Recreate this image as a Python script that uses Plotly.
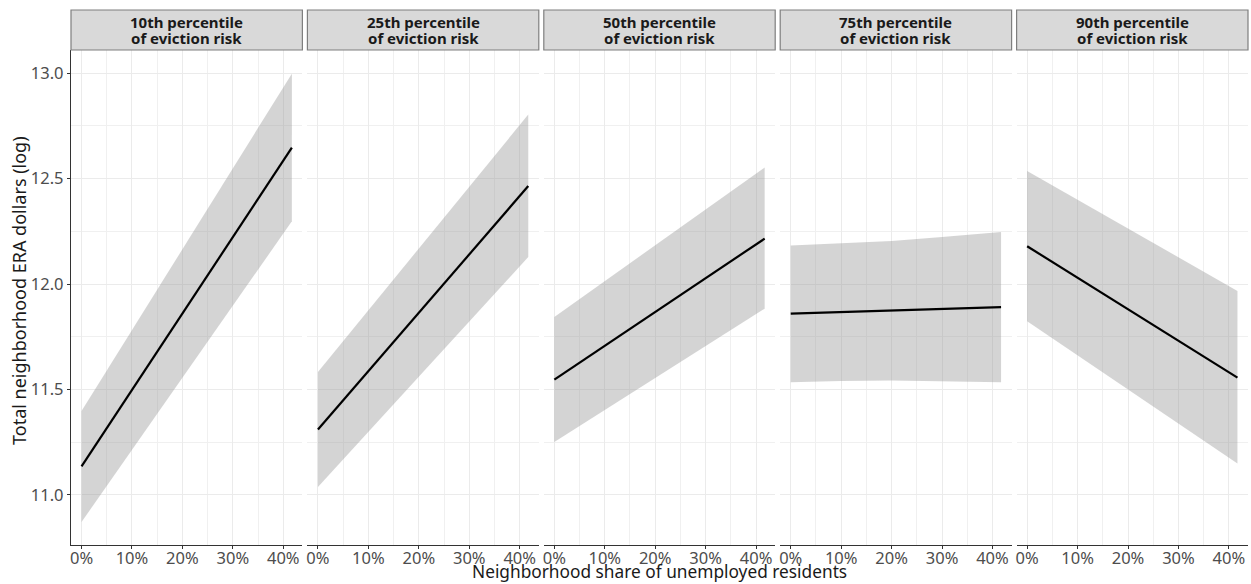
import plotly.graph_objects as go

# ---------------- data ----------------
panel_line1 = [
    "10th percentile",
    "25th percentile",
    "50th percentile",
    "75th percentile",
    "90th percentile",
]
panel_line2 = "of eviction risk"
line_x = [0.0, 0.417]
line_y = [
    [11.136, 12.646],
    [11.310, 12.464],
    [11.547, 12.215],
    [11.860, 11.890],
    [12.179, 11.556],
]
band_x = [
    [0.0, 0.417],
    [0.0, 0.417],
    [0.0, 0.417],
    [0.0, 0.1, 0.2, 0.3, 0.417],
    [0.0, 0.417],
]
band_upper = [
    [11.398, 12.997],
    [11.583, 12.803],
    [11.844, 12.552],
    [12.183, 12.194, 12.204, 12.223, 12.247],
    [12.536, 11.967],
]
band_lower = [
    [10.872, 12.297],
    [11.038, 12.128],
    [11.251, 11.883],
    [11.534, 11.540, 11.543, 11.539, 11.534],
    [11.823, 11.149],
]
x_ticks = [0.0, 0.1, 0.2, 0.3, 0.4]
y_ticks = [11.0, 11.5, 12.0, 12.5, 13.0]
x_title = "Neighborhood share of unemployed residents"
y_title = "Total neighborhood ERA dollars (log)"

# ---------------- layout geometry ----------------
W, H = 1251, 584
ML, MR, MT, MB = 71, 3, 50, 39
plot_w = W - ML - MR
plot_h = H - MT - MB
gap_px = 5.0
panel_w = (plot_w - 4 * gap_px) / 5
X_RANGE = [-0.0209, 0.4379]
Y_RANGE = [10.763, 13.109]

FONT = "Noto Sans"
TICK_SIZE = 16.5
fig = go.Figure()
layout = dict(
    width=W, height=H,
    margin=dict(l=ML, r=MR, t=MT, b=MB),
    paper_bgcolor="white", plot_bgcolor="white",
    showlegend=False,
    font=dict(family=FONT, size=14, color="#4d4d4d"),
)
shapes = []
annotations = []


def py(pix):
    """pixel row (from top of figure) -> paper y"""
    return (H - MB - pix) / plot_h


for i in range(5):
    sfx = "" if i == 0 else str(i + 1)
    xa, ya = "x" + sfx, "y" + sfx
    d0 = (i * (panel_w + gap_px)) / plot_w
    d1 = (i * (panel_w + gap_px) + panel_w) / plot_w

    bx = band_x[i] + band_x[i][::-1]
    by = band_upper[i] + band_lower[i][::-1]
    fig.add_trace(go.Scatter(
        x=bx, y=by, xaxis=xa, yaxis=ya, mode="lines",
        fill="toself", fillcolor="rgba(153,153,153,0.42)",
        line=dict(width=0), hoverinfo="skip"))
    fig.add_trace(go.Scatter(
        x=line_x, y=line_y[i], xaxis=xa, yaxis=ya, mode="lines",
        line=dict(color="black", width=2.2)))

    layout["xaxis" + sfx] = dict(
        domain=[d0, d1], anchor=ya, range=X_RANGE,
        tickvals=x_ticks, tickformat=".0%",
        showgrid=True, gridcolor="#ebebeb", gridwidth=1,
        minor=dict(dtick=0.05, tick0=0, showgrid=True, gridcolor="#f0f0f0", gridwidth=1),
        showline=True, linecolor="#333333", linewidth=1.3,
        ticks="outside", ticklen=3, tickcolor="#333333",
        tickfont=dict(family=FONT, size=TICK_SIZE, color="#4d4d4d"),
        ticklabelstandoff=-5,
        zeroline=False, fixedrange=True,
    )
    layout["yaxis" + sfx] = dict(
        domain=[0, 1], anchor=xa, range=Y_RANGE,
        tickvals=y_ticks, tickformat=".1f",
        showgrid=True, gridcolor="#ebebeb", gridwidth=1,
        minor=dict(dtick=0.25, tick0=11.0, showgrid=True, gridcolor="#f0f0f0", gridwidth=1),
        showline=(i == 0), linecolor="#333333", linewidth=1.3,
        ticks="outside" if i == 0 else "", ticklen=3, tickcolor="#333333",
        showticklabels=(i == 0),
        tickfont=dict(family=FONT, size=TICK_SIZE, color="#4d4d4d"),
        zeroline=False, fixedrange=True,
    )

    # strip header
    shapes.append(dict(
        type="rect", xref="paper", yref="paper",
        x0=d0, x1=d1, y0=py(50), y1=py(10),
        fillcolor="#d9d9d9", line=dict(color="#7f7f7f", width=1.2), layer="above"))
    annotations.append(dict(
        text="<b>" + panel_line1[i] + "</b>", xref="paper", yref="paper",
        x=(d0 + d1) / 2, y=py(22.5), xanchor="center", yanchor="middle",
        showarrow=False, font=dict(family=FONT, size=15, color="#1a1a1a")))
    annotations.append(dict(
        text="<b>" + panel_line2 + "</b>", xref="paper", yref="paper",
        x=(d0 + d1) / 2, y=py(38), xanchor="center", yanchor="middle",
        showarrow=False, font=dict(family=FONT, size=15, color="#1a1a1a")))

annotations.append(dict(
    text=x_title, xref="paper", yref="paper",
    x=0.5, y=py(584), xanchor="center", yanchor="bottom", borderpad=0,
    showarrow=False, font=dict(family=FONT, size=17.3, color="#1a1a1a")))
annotations.append(dict(
    text=y_title, xref="paper", yref="paper",
    x=(19 - ML) / plot_w, y=py(291), xanchor="center", yanchor="middle", textangle=-90,
    showarrow=False, font=dict(family=FONT, size=18, color="#1a1a1a")))

layout["shapes"] = shapes
layout["annotations"] = annotations
fig.update_layout(**layout)
fig.write_html("out.html")
